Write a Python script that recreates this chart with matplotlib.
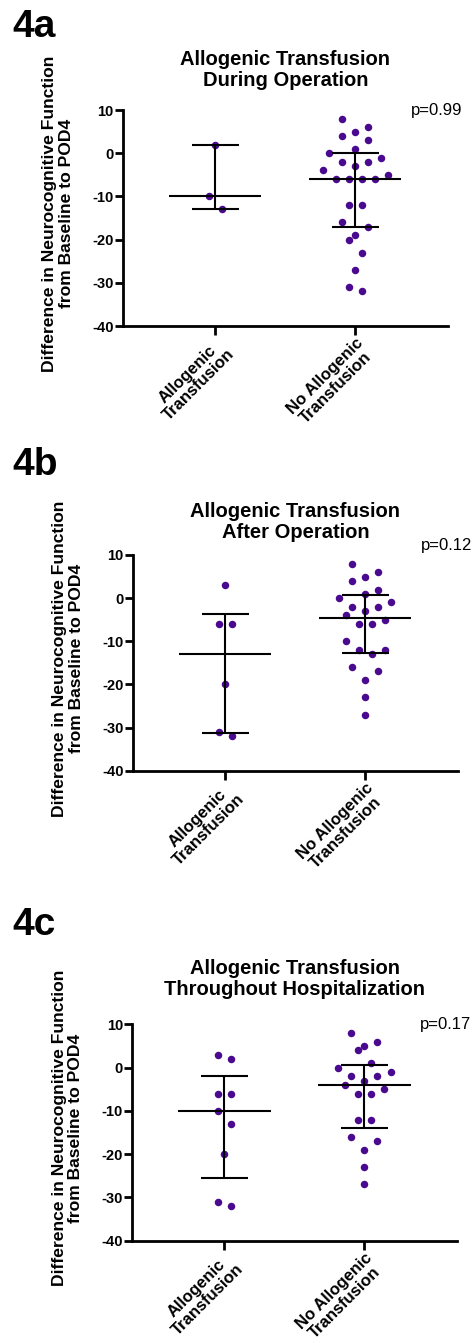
import numpy as np
import matplotlib
matplotlib.use("Agg")
import matplotlib.pyplot as plt
from matplotlib.transforms import offset_copy

plt.rcParams['font.family'] = ['Liberation Sans', 'DejaVu Sans']

# ---------------------------------------------------------------- data
GROUPS = ["Allogenic\nTransfusion", "No Allogenic\nTransfusion"]
YLABEL = "Difference in Neurocognitive Function\nfrom Baseline to POD4"
TAGS = ["4a", "4b", "4c"]
TITLES = ["Allogenic Transfusion\nDuring Operation",
          "Allogenic Transfusion\nAfter Operation",
          "Allogenic Transfusion\nThroughout Hospitalization"]
P_TEXT = ["p=0.99", "p=0.12", "p=0.17"]
YTICKS = [-40, -30, -20, -10, 0, 10]

during_tx = [2, -10, -13]
during_no = [8, 6, 5, 4, 3, 1, 0, -1, -2, -2, -3, -4, -5, -6, -6, -6, -6,
             -12, -12, -16, -17, -19, -20, -23, -27, -31, -32]
after_tx = [3, -6, -6, -20, -31, -32]
after_no = [8, 6, 5, 4, 2, 1, 0, -1, -2, -2, -3, -4, -5, -6, -6, -10,
            -12, -12, -13, -16, -17, -19, -23, -27]
hosp_tx = [3, 2, -6, -6, -10, -13, -20, -31, -32]
hosp_no = [8, 6, 5, 4, 1, 0, -1, -2, -2, -3, -4, -5, -6, -6, -12, -12,
           -16, -17, -19, -23, -27]

# median with interquartile range, as drawn (tx group, no-tx group)
during_med, during_q3, during_q1 = [-10, -6], [2, 0], [-13, -17]
after_med, after_q3, after_q1 = [-13, -4.5], [-3.75, 0.75], [-31.25, -12.75]
hosp_med, hosp_q3, hosp_q1 = [-10, -4], [-2, 0.5], [-25.5, -14]

panels = [
    ((during_tx, during_no), during_med, during_q3, during_q1),
    ((after_tx, after_no), after_med, after_q3, after_q1),
    ((hosp_tx, hosp_no), hosp_med, hosp_q3, hosp_q1),
]

# ---------------------------------------------------------------- layout (pixels)
W, H = 474, 1343
AX_PX = [(122.7, 110, 326), (132.7, 555, 770.7), (132, 1024.3, 1240.7)]  # left, top, bottom
AX_W = 325.3
TAG_BASE = [37, 475, 935]
TITLE_PAD = [17, 12, 21]
P_DY = [0, 9, 0]
DOT = "#4a0a8f"


def swarm_offsets(vals, row_h=3.0, step=0.093):
    """Prism-like dot placement: group close values into rows, spread each row."""
    vals = np.asarray(vals, dtype=float)
    order = np.argsort(-vals, kind="stable")
    offs = np.zeros(len(vals))
    i = 0
    while i < len(order):
        top = vals[order[i]]
        j = i
        while j < len(order) and top - vals[order[j]] <= row_h:
            j += 1
        members = order[i:j]
        n = len(members)
        slots = (np.arange(n) - (n - 1) / 2) * step
        seq, lo, hi = [], 0, n - 1
        while lo <= hi:
            seq.append(lo)
            if hi != lo:
                seq.append(hi)
            lo += 1
            hi -= 1
        for m, s in zip(members, seq):
            offs[m] = slots[s]
        i = j
    return offs


fig = plt.figure(figsize=(W / 100, H / 100), dpi=100)

for k, (groups, med, q3, q1) in enumerate(panels):
    left, top, bottom = AX_PX[k]
    ax = fig.add_axes([left / W, 1 - bottom / H, AX_W / W, (bottom - top) / H])

    for gi, vals in enumerate(groups):
        xs = gi + swarm_offsets(vals)
        ax.plot(xs, vals, "o", color=DOT, ms=5.4, mec="none", clip_on=False, zorder=2)
    x = np.arange(len(groups))
    ax.hlines(med, x - 0.33, x + 0.33, color="black", lw=1.5, zorder=3)
    ax.hlines(q3, x - 0.167, x + 0.167, color="black", lw=1.5, zorder=3)
    ax.hlines(q1, x - 0.167, x + 0.167, color="black", lw=1.5, zorder=3)
    ax.vlines(x, q1, q3, color="black", lw=1.5, zorder=3)

    ax.set_xlim(-0.66, 1.663)
    ax.set_ylim(-40, 10)
    ax.set_yticks(YTICKS)
    ax.set_yticklabels([str(t) for t in YTICKS], fontsize=10.5, fontweight="bold")
    ax.set_xticks(x)
    ax.set_xticklabels(GROUPS, fontsize=12, fontweight="bold", rotation=45,
                       ha="right", va="top", rotation_mode="anchor",
                       multialignment="center", linespacing=1.05)
    ax.tick_params(axis="y", length=5.5, width=2, pad=1)
    ax.tick_params(axis="x", length=6.5, width=2, pad=0.5)
    for s in ("top", "right"):
        ax.spines[s].set_visible(False)
    for s in ("left", "bottom"):
        ax.spines[s].set_linewidth(2.0)

    ax.set_ylabel(YLABEL, fontsize=12.6, fontweight="bold", linespacing=1.1)
    ax.yaxis.set_label_coords(-49 / AX_W, 0.52)
    ax.set_title(TITLES[k], fontsize=14.5, fontweight="bold", pad=TITLE_PAD[k], linespacing=1.15)

    ptr = offset_copy(ax.transAxes, fig=fig, x=14, y=P_DY[k], units="dots")
    ax.text(1.0, 1.0, P_TEXT[k], transform=ptr, ha="right", va="center", fontsize=12)

    fig.text(12 / W, 1 - TAG_BASE[k] / H, TAGS[k], fontsize=28, fontweight="bold",
             ha="left", va="baseline")

fig.savefig("out.png", dpi=100)
